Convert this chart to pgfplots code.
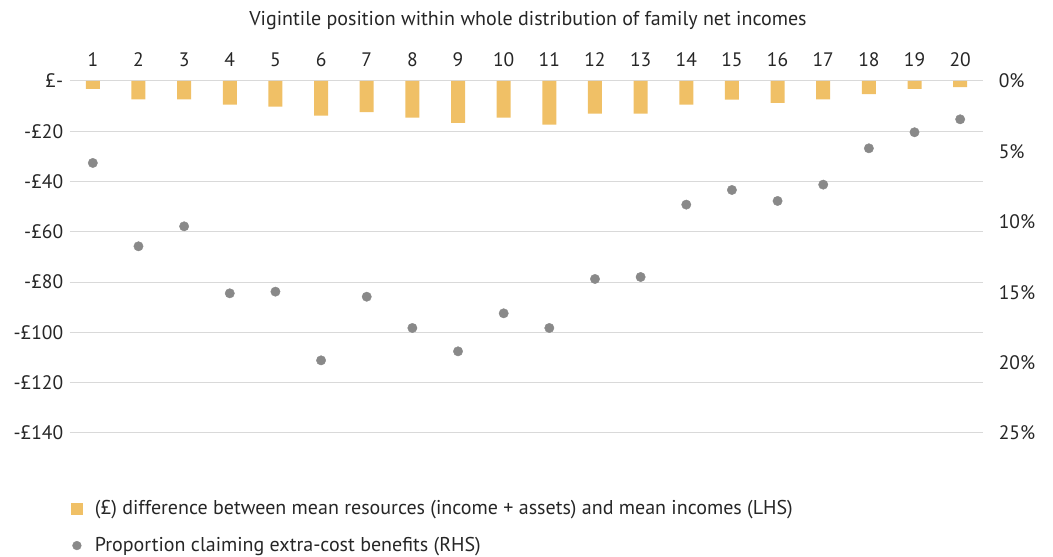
\documentclass[border=0pt]{standalone}
\usepackage{fontspec}
\setmainfont{PT Sans}
\usepackage{pgfplots}
\pgfplotsset{compat=1.18}
\definecolor{barcol}{RGB}{240,192,102}
\definecolor{dotcol}{RGB}{137,137,137}
\definecolor{gridcol}{RGB}{217,217,217}
\definecolor{txt}{RGB}{38,38,38}
\begin{document}
\fontsize{20}{24}\selectfont
\begin{tikzpicture}
\path[use as bounding box] (0,0) rectangle (1053pt,557pt);
\node[anchor=base, text=txt, font=\fontsize{20}{24}\selectfont] at (528pt,531pt) {Vigintile position within whole distribution of family net incomes};
\begin{axis}[
  at={(70pt,124pt)}, anchor=south west,
  width=913pt, height=352pt, scale only axis,
  xmin=0.5, xmax=20.5, ymin=-140, ymax=0,
  axis line style={draw=none},
  major tick length=0pt,
  xtick={1,...,20}, xticklabel pos=upper,
  xticklabel style={anchor=base, yshift=14pt},
  ytick={0,-20,-40,-60,-80,-100,-120,-140},
  yticklabels={£-,-£20,-£40,-£60,-£80,-£100,-£120,-£140},
  ymajorgrids, major grid style={draw=gridcol, line width=1pt},
  tick label style={text=txt, font=\fontsize{19.5}{23}\selectfont},
  /pgf/number format/assume math mode=true,
]
\addplot[ybar, bar width=14pt, fill=barcol, draw=none] coordinates {
(1,-3.1) (2,-7.3) (3,-7.3) (4,-9.4) (5,-10.2) (6,-13.8) (7,-12.4) (8,-14.6) (9,-16.7) (10,-14.6)
(11,-17.4) (12,-13.0) (13,-13.0) (14,-9.4) (15,-7.4) (16,-8.7) (17,-7.3) (18,-5.2) (19,-3.1) (20,-2.4)};
\end{axis}
\begin{axis}[
  at={(70pt,124pt)}, anchor=south west,
  width=913pt, height=352pt, scale only axis,
  xmin=0.5, xmax=20.5, ymin=0, ymax=25, y dir=reverse,
  axis line style={draw=none},
  major tick length=0pt,
  xtick=\empty,
  ytick={0,5,10,15,20,25}, yticklabel pos=right,
  yticklabel={\pgfmathprintnumber{\tick}\%},
  yticklabel style={xshift=9pt},
  tick label style={text=txt, font=\fontsize{19.5}{23}\selectfont},
  /pgf/number format/assume math mode=true,
  legend style={at={(0,0)}, anchor=north west, xshift=-2pt, yshift=-63pt, draw=none, fill=none,
    font=\fontsize{20}{24}\selectfont, text=txt, row sep=15.5pt},
  legend cell align=left,
]
\addlegendimage{legend image code/.code={\path[draw=none,fill=none] (-5.5pt,-5.5pt) rectangle (16pt,5.5pt); \fill[barcol] (-5.5pt,-5.5pt) rectangle (5.5pt,5.5pt);}}
\addlegendentry{(£) difference between mean resources (income + assets) and mean incomes (LHS)}
\addlegendimage{legend image code/.code={\path[draw=none,fill=none] (-5.5pt,-5.5pt) rectangle (16pt,5.5pt); \fill[dotcol] (0pt,0pt) circle (4.4pt);}}
\addlegendentry{Proportion claiming extra-cost benefits (RHS)}
\addplot[only marks, mark=*, mark size=4.7pt, color=dotcol, forget plot] coordinates {
(1,5.82) (2,11.74) (3,10.32) (4,15.08) (5,14.96) (6,19.84) (7,15.32) (8,17.54) (9,19.2) (10,16.5)
(11,17.54) (12,14.06) (13,13.92) (14,8.78) (15,7.74) (16,8.52) (17,7.36) (18,4.78) (19,3.64) (20,2.72)};
\end{axis}
\end{tikzpicture}
\end{document}
